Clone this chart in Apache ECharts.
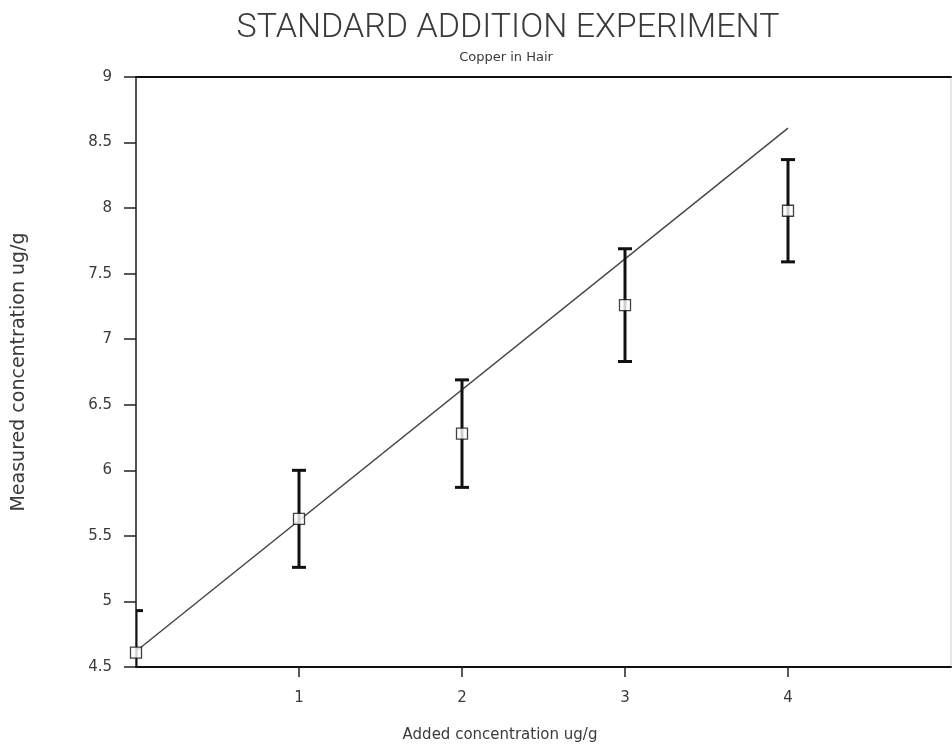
<!DOCTYPE html>
<html>
<head>
<meta charset="utf-8">
<title>Standard Addition Experiment</title>
<script src="https://cdn.jsdelivr.net/npm/echarts@6/dist/echarts.min.js"></script>
<style>
  html, body { margin: 0; padding: 0; background: #fff; }
  #chart { width: 952px; height: 754px; }
</style>
</head>
<body>
<div id="chart"></div>
<script>
// Added copper concentration (ug/g) for each spiked sample
const added = [0, 1, 2, 3, 4];
// Mean measured concentration (ug/g)
const measured = [4.61, 5.63, 6.28, 7.26, 7.98];
// Half-width of the error bar (ug/g)
const errHalf = [0.32, 0.37, 0.41, 0.43, 0.39];
// Fitted calibration line end points [added, measured]
const fitX = [0, 4];
const fitY = [4.62, 8.61];

const points = added.map((x, i) => [x, measured[i]]);
const bars = added.map((x, i) => [x, measured[i] - errHalf[i], measured[i] + errHalf[i]]);
const fitLine = fitX.map((x, i) => [x, fitY[i]]);

const labelFont = 'DejaVu Sans';
const textColor = '#3a3a3a';
const chart = echarts.init(document.getElementById('chart'), null, { renderer: 'canvas' });

chart.setOption({
  backgroundColor: '#ffffff',
  animation: false,
  graphic: [
    {
      type: 'text', x: 508, y: 28,
      style: {
        text: 'STANDARD ADDITION EXPERIMENT',
        font: '300 34px Roboto', fill: textColor,
        textAlign: 'center', textVerticalAlign: 'middle'
      }
    },
    {
      type: 'text', x: 506, y: 58,
      style: {
        text: 'Copper in Hair',
        font: '13px "DejaVu Sans"', fill: textColor,
        textAlign: 'center', textVerticalAlign: 'middle'
      }
    },
    {
      type: 'text', x: 500, y: 735,
      style: {
        text: 'Added concentration ug/g',
        font: '15px "DejaVu Sans"', fill: textColor,
        textAlign: 'center', textVerticalAlign: 'middle'
      }
    },
    {
      type: 'text', x: 19, y: 372, rotation: Math.PI / 2,
      style: {
        text: 'Measured concentration ug/g',
        font: '19px "DejaVu Sans"', fill: textColor,
        textAlign: 'center', textVerticalAlign: 'middle'
      }
    }
  ],
  grid: {
    left: 136, right: 1, top: 77, bottom: 87,
    show: true, borderColor: '#cfcfcf', borderWidth: 1, backgroundColor: 'transparent'
  },
  xAxis: [
    {
      type: 'value', min: 0, max: 5, interval: 1,
      axisLine: { show: true, onZero: false, lineStyle: { color: '#111', width: 2 } },
      axisTick: { show: true, inside: false, length: 10, lineStyle: { color: '#222', width: 1.5 } },
      axisLabel: {
        showMinLabel: false, showMaxLabel: false, margin: 24,
        fontFamily: labelFont, fontSize: 15, color: textColor
      },
      splitLine: { show: false }
    },
    {
      type: 'value', min: 0, max: 5, position: 'top',
      axisLine: { show: true, onZero: false, lineStyle: { color: '#111', width: 2 } },
      axisTick: { show: false }, axisLabel: { show: false }, splitLine: { show: false }
    }
  ],
  yAxis: {
    type: 'value', min: 4.5, max: 9, interval: 0.5,
    axisLine: { show: true, onZero: false, lineStyle: { color: '#222', width: 1.5 } },
    axisTick: { show: true, inside: false, length: 12, lineStyle: { color: '#222', width: 1.5 } },
    axisLabel: { margin: 24, fontFamily: labelFont, fontSize: 15, color: textColor },
    splitLine: { show: false }
  },
  series: [
    {
      type: 'line',
      data: fitLine,
      symbol: 'none',
      lineStyle: { color: '#444', width: 1.4 },
      z: 2
    },
    {
      type: 'custom',
      data: bars,
      clip: true,
      z: 3,
      renderItem: function (params, api) {
        const x = api.value(0);
        const lo = api.coord([x, api.value(1)]);
        const hi = api.coord([x, api.value(2)]);
        const cap = 7;
        const style = { stroke: '#111', lineWidth: 3 };
        return {
          type: 'group',
          children: [
            { type: 'line', shape: { x1: hi[0], y1: hi[1], x2: lo[0], y2: lo[1] }, style: style },
            { type: 'line', shape: { x1: hi[0] - cap, y1: hi[1], x2: hi[0] + cap, y2: hi[1] }, style: style },
            { type: 'line', shape: { x1: lo[0] - cap, y1: lo[1], x2: lo[0] + cap, y2: lo[1] }, style: style }
          ]
        };
      }
    },
    {
      type: 'scatter',
      data: points,
      symbol: 'rect',
      symbolSize: 11,
      itemStyle: { color: '#fff', borderColor: '#111', borderWidth: 1.3 },
      z: 4
    }
  ]
});
</script>
</body>
</html>
